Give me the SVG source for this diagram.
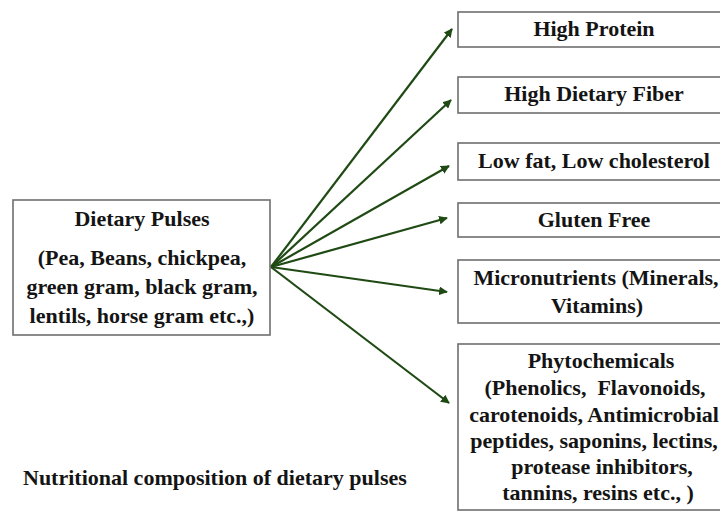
<svg xmlns="http://www.w3.org/2000/svg" width="720" height="512" viewBox="0 0 720 512">
<style>
.box{fill:#fff;stroke:#6e6e6e;stroke-width:1.6}
.t{font-family:'Liberation Serif','DejaVu Serif',serif;font-weight:700;font-size:22px;fill:#141414;text-anchor:middle;white-space:pre}
.c{stroke:#1f4a14;stroke-width:2.2;fill:none;marker-end:url(#ah)}
</style>
<defs>
<marker id="ah" viewBox="0 0 10 10" refX="9" refY="5" markerWidth="4" markerHeight="4" orient="auto" markerUnits="strokeWidth">
<path d="M0,0 L10,5 L0,10 Z" fill="#1f4a14"/>
</marker>
</defs>
<rect width="720" height="512" fill="#fff"/>
<g id="connectors">
<line class="c" x1="271" y1="267" x2="452" y2="29"/>
<line class="c" x1="271" y1="267" x2="451" y2="100"/>
<line class="c" x1="271" y1="267" x2="449" y2="166"/>
<line class="c" x1="271" y1="267" x2="447" y2="218"/>
<line class="c" x1="271" y1="267" x2="447" y2="292"/>
<line class="c" x1="271" y1="267" x2="449" y2="403"/>
</g>
<g id="dietary-pulses">
<rect class="box" x="13" y="200" width="257" height="135"/>
<text class="t" x="142" y="226">Dietary Pulses</text>
<text class="t" x="142" y="265">(Pea, Beans, chickpea,</text>
<text class="t" x="142" y="294">green gram, black gram,</text>
<text class="t" x="142" y="323">lentils, horse gram etc.,)</text>
</g>
<g id="high-protein">
<rect class="box" x="458" y="12" width="280" height="35"/>
<text class="t" x="594" y="36">High Protein</text>
</g>
<g id="high-fiber">
<rect class="box" x="458" y="77" width="280" height="36"/>
<text class="t" x="594" y="101">High Dietary Fiber</text>
</g>
<g id="low-fat">
<rect class="box" x="458" y="143" width="280" height="37"/>
<text class="t" x="594" y="168">Low fat, Low cholesterol</text>
</g>
<g id="gluten-free">
<rect class="box" x="458" y="203" width="280" height="34"/>
<text class="t" x="594" y="227">Gluten Free</text>
</g>
<g id="micronutrients">
<rect class="box" x="458" y="260" width="280" height="63"/>
<text class="t" x="596" y="285">Micronutrients (Minerals,</text>
<text class="t" x="597" y="313">Vitamins)</text>
</g>
<g id="phytochemicals">
<rect class="box" x="458" y="344" width="280" height="166"/>
<text class="t" x="601" y="368">Phytochemicals</text>
<text class="t" x="595" y="395">(Phenolics,  Flavonoids,</text>
<text class="t" x="594" y="422">carotenoids, Antimicrobial</text>
<text class="t" x="594" y="448">peptides, saponins, lectins,</text>
<text class="t" x="602" y="474">protease inhibitors,</text>
<text class="t" x="598" y="500">tannins, resins etc., )</text>
</g>
<g id="caption">
<text class="t" x="23" y="485" style="text-anchor:start">Nutritional composition of dietary pulses</text>
</g>
</svg>
